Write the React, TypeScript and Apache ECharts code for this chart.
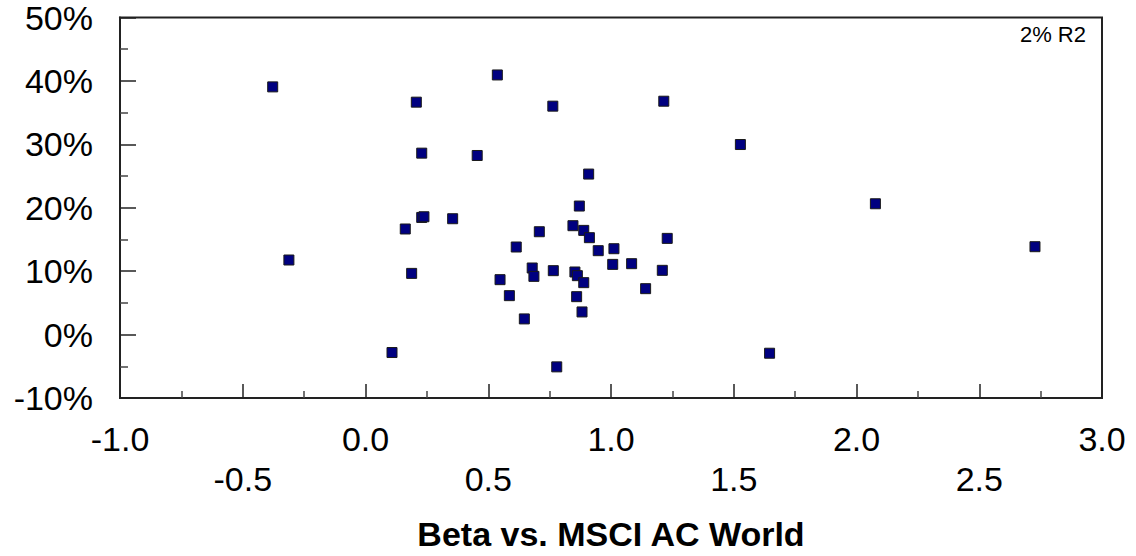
import React, { useEffect, useRef } from "react";
import * as echarts from "echarts";

const betas: number[] = [
  -0.378, 0.537, 0.207, 0.229, 0.455, 0.229, 0.238, 0.355, 0.162, -0.312,
  0.188, 0.548, 0.108, 0.871, 0.845, 0.889, 0.912, 0.708, 0.614, 0.948,
  1.012, 1.229, 0.679, 0.686, 0.765, 0.853, 0.863, 0.889, 1.007, 1.084,
  1.209, 1.141, 0.586, 0.86, 0.882, 0.647, 0.763, 1.215, 0.909, 1.527,
  2.077, 2.727, 1.646, 0.779,
];
const returns: number[] = [
  39.06, 40.94, 36.65, 28.61, 28.24, 18.47, 18.58, 18.27, 16.65, 11.76,
  9.65, 8.66, -2.83, 20.27, 17.17, 16.43, 15.28, 16.22, 13.81, 13.23,
  13.54, 15.17, 10.5, 9.18, 10.08, 9.87, 9.29, 8.19, 11.07, 11.18,
  10.13, 7.24, 6.14, 5.98, 3.57, 2.47, 36.02, 36.8, 25.31, 29.97,
  20.63, 13.86, -2.94, -5.09,
];
const xTitle = "Beta vs. MSCI AC World";
const r2Label = "2% R2";

const FONT = "'Liberation Sans', Arial, Helvetica, sans-serif";

export default function App() {
  const ref = useRef<HTMLDivElement>(null);
  useEffect(() => {
    if (!ref.current) return;
    const chart = echarts.init(ref.current, undefined, { renderer: "svg" });
    const data = betas.map((b, i) => [b, returns[i]]);
    const isInt = (v: number) => Math.abs(v - Math.round(v)) < 1e-6;
    const axisLine = { show: true, onZero: false, lineStyle: { color: "#222", width: 2 } };
    chart.setOption({
      animation: false,
      backgroundColor: "#fff",
      grid: {
        left: 120,
        right: 34,
        top: 17.5,
        bottom: 158,
        show: true,
        borderColor: "#222",
        borderWidth: 2,
        containLabel: false,
      },
      xAxis: [
        {
          type: "value",
          position: "bottom",
          min: -1,
          max: 3,
          interval: 0.5,
          axisLine,
          axisTick: { show: true, inside: true, length: 14, lineStyle: { color: "#222", width: 1.5 } },
          minorTick: { show: true, splitNumber: 2, length: 7, lineStyle: { color: "#444", width: 1.5 } },
          splitLine: { show: false },
          axisLabel: {
            margin: 24,
            fontSize: 34,
            color: "#000",
            fontFamily: FONT,
            showMinLabel: true,
            showMaxLabel: true,
            formatter: (v: number) => (isInt(v) ? v.toFixed(1) : ""),
          },
        },
        {
          type: "value",
          position: "bottom",
          min: -1,
          max: 3,
          interval: 0.5,
          axisLine: { show: false, onZero: false },
          axisTick: { show: false },
          splitLine: { show: false },
          axisLabel: {
            margin: 64,
            fontSize: 34,
            color: "#000",
            fontFamily: FONT,
            formatter: (v: number) => (isInt(v) ? "" : v.toFixed(1)),
          },
        },
      ],
      yAxis: {
        type: "value",
        min: -10,
        max: 50,
        interval: 10,
        axisLine,
        axisTick: { show: true, inside: true, length: 16, lineStyle: { color: "#222", width: 1.5 } },
        minorTick: { show: true, splitNumber: 2, length: 8, lineStyle: { color: "#444", width: 1.5 } },
        splitLine: { show: false },
        axisLabel: {
          margin: 27,
          fontSize: 34,
          color: "#000",
          fontFamily: FONT,
          formatter: (v: number) => `${v}%`,
        },
      },
      graphic: [
        {
          type: "text",
          x: 611,
          y: 534,
          style: {
            text: xTitle,
            fontSize: 34,
            fontWeight: "bold",
            fontFamily: FONT,
            fill: "#000",
            textAlign: "center",
            textVerticalAlign: "middle",
          },
        },
        {
          type: "text",
          x: 1086,
          y: 34,
          style: {
            text: r2Label,
            fontSize: 22,
            fontFamily: FONT,
            fill: "#000",
            textAlign: "right",
            textVerticalAlign: "middle",
          },
        },
      ],
      series: [
        {
          type: "scatter",
          xAxisIndex: 0,
          yAxisIndex: 0,
          symbol: "rect",
          symbolSize: 10,
          itemStyle: {
            color: "#000080",
            borderColor: "#1a1a1a",
            borderWidth: 1,
            opacity: 1,
          },
          data,
        },
      ],
    });
    return () => chart.dispose();
  }, []);
  return (
    <div
      ref={ref}
      style={{ position: "fixed", left: 0, top: 0, width: 1136, height: 556 }}
    />
  );
}
